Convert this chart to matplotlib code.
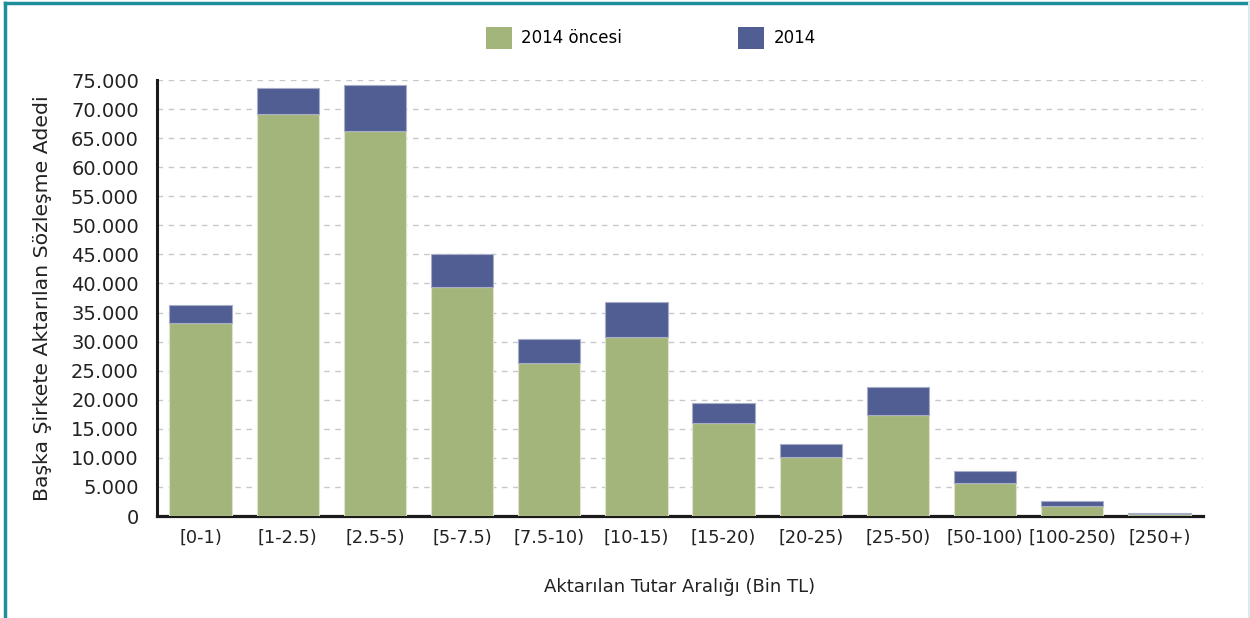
import matplotlib
matplotlib.use("Agg")
import matplotlib.pyplot as plt
from matplotlib.patches import Patch
from matplotlib.lines import Line2D
from matplotlib.ticker import FuncFormatter, MultipleLocator

categories = ["[0-1)", "[1-2.5)", "[2.5-5)", "[5-7.5)", "[7.5-10)", "[10-15)",
              "[15-20)", "[20-25)", "[25-50)", "[50-100)", "[100-250)", "[250+)"]
once_2014 = [33200, 69100, 66200, 39400, 26300, 30800, 16000, 10100, 17300, 5700, 1700, 300]
y2014 = [3100, 4500, 7900, 5700, 4100, 6000, 3400, 2300, 4900, 2100, 800, 160]

series_names = ["2014 öncesi", "2014"]
c_green = "#A4B57B"
c_blue = "#515E94"

plt.rcParams['font.family'] = ['DejaVu Sans']

fig = plt.figure(figsize=(12.5, 6.18), dpi=100)
ax = fig.add_axes([157/1250, 1-516/618, (1203-157)/1250, (516-80)/618])

x = list(range(len(categories)))
ax.bar(x, once_2014, width=0.715, color=c_green, edgecolor="#DDE3CF", linewidth=0.8, zorder=3)
ax.bar(x, y2014, bottom=once_2014, width=0.715, color=c_blue, edgecolor="#A9AEC8", linewidth=0.8, zorder=3)

ax.set_xlim(-0.5, len(categories)-0.5)
ax.set_ylim(0, 75000)
ax.yaxis.set_major_locator(MultipleLocator(5000))
ax.yaxis.set_major_formatter(FuncFormatter(lambda v, p: f"{int(v):,}".replace(",", ".")))
ax.set_xticks(x)
ax.set_xticklabels(categories, fontsize=12.8, color="#222222")
ax.tick_params(axis='y', length=0, pad=13, labelsize=14, labelcolor="#222222")
ax.tick_params(axis='x', length=0, pad=9)

ax.grid(axis='y', linestyle=(0, (4, 4)), color="#C8C8C8", linewidth=1, zorder=0)
for s in ["top", "right"]:
    ax.spines[s].set_visible(False)
ax.spines["left"].set_linewidth(2.2)
ax.spines["left"].set_color("#1a1a1a")
ax.spines["bottom"].set_linewidth(2.3)
ax.spines["bottom"].set_color("#1a1a1a")

ax.set_ylabel("Başka Şirkete Aktarılan Sözleşme Adedi", fontsize=14.7, color="#222222", labelpad=14)
ax.set_xlabel("Aktarılan Tutar Aralığı (Bin TL)", fontsize=13, color="#222222", labelpad=23)

handles = [Patch(facecolor=c_green, edgecolor="none"), Patch(facecolor=c_blue, edgecolor="none")]
fig.legend(handles, series_names, loc="center", bbox_to_anchor=(0.5205, 1-38/618),
           ncol=2, frameon=False, fontsize=12, handlelength=1.56, handleheight=1.62,
           handletextpad=0.55, columnspacing=7.0)

# outer frame
fig.add_artist(Line2D([5/1250, 5/1250], [0, 1-3/618], transform=fig.transFigure, color="#1E8E9A", linewidth=2.5))
fig.add_artist(Line2D([5/1250, 1], [1-3/618, 1-3/618], transform=fig.transFigure, color="#1E8E9A", linewidth=2.5))
fig.add_artist(Line2D([1249/1250, 1249/1250], [0, 1-3/618], transform=fig.transFigure, color="#D6ECEE", linewidth=1.5))

fig.savefig("out.png", dpi=100)
